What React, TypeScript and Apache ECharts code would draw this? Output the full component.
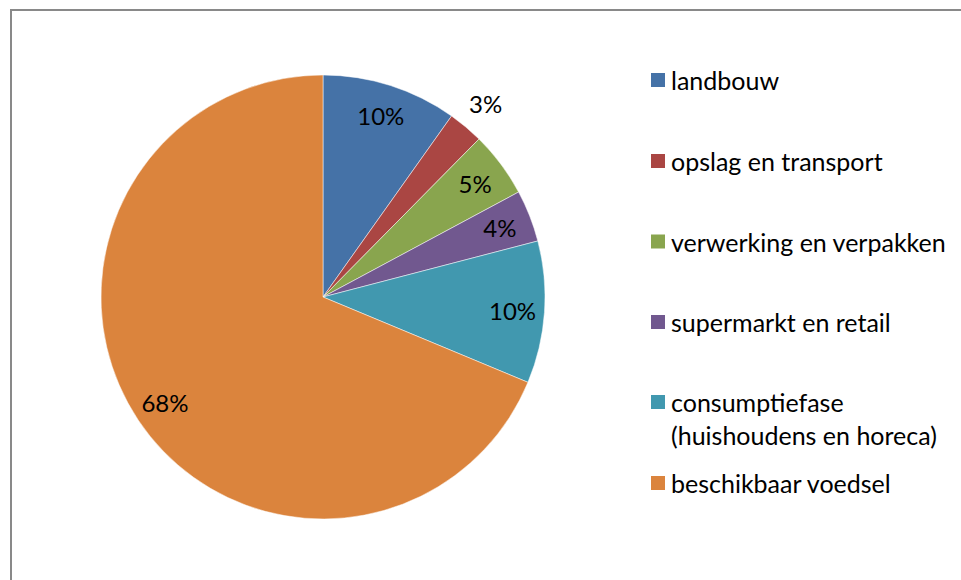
import React, { useEffect, useRef } from "react";
import * as echarts from "echarts";

const categories = [
  "landbouw",
  "opslag en transport",
  "verwerking en verpakken",
  "supermarkt en retail",
  "consumptiefase (huishoudens en horeca)",
  "beschikbaar voedsel",
];
const shares = [9.83, 2.57, 4.76, 3.78, 10.34, 68.72];
const percentLabels = ["10%", "3%", "5%", "4%", "10%", "68%"];
const colors = ["#4572A7", "#AA4643", "#89A54E", "#71588F", "#4198AF", "#DB843D"];

const legendCenters = [80, 161, 241.5, 322, 402, 483];
const FONT = "Lato, 'Noto Sans', sans-serif";
const FS = 24;
const LFS = 25;

export default function App() {
  const ref = useRef<HTMLDivElement>(null);
  useEffect(() => {
    if (!ref.current) return;
    const chart = echarts.init(ref.current, undefined, { renderer: "svg" });
    const center = [323, 297];
    const R = 222;
    const labelStyle = { color: "#000", fontSize: FS, fontFamily: FONT };
    const legends = categories.map((name, i) => {
      const twoLine = name.includes("(");
      return {
        data: [{ name }],
        orient: "vertical",
        left: 649,
        top: twoLine ? legendCenters[i] - 49.5 : legendCenters[i] - 16.5,
        padding: 0,
        itemGap: 0,
        itemWidth: 16,
        itemHeight: 16,
        icon: "rect",
        selectedMode: false,
        formatter: (n: string) =>
          n.includes(" (")
            ? "{s| }\n{a|" + n.replace(" (", "}\n{a|(") + "}"
            : n,
        textStyle: {
          color: "#000",
          fontSize: LFS,
          fontFamily: FONT,
          lineHeight: 33,
          rich: {
            s: { lineHeight: 33, fontSize: LFS, fontFamily: FONT },
            a: { lineHeight: 33, fontSize: LFS, fontFamily: FONT, color: "#000" },
          },
        },
      };
    });
    chart.setOption({
      animation: false,
      backgroundColor: "#fff",
      legend: legends,
      graphic: [
        {
          type: "rect",
          shape: { x: 11, y: 10, width: 1200, height: 1000 },
          style: { fill: "none", stroke: "#898989", lineWidth: 2 },
          silent: true,
        },
      ],
      series: [
        {
          type: "pie",
          center,
          radius: [0, R],
          startAngle: 90,
          clockwise: true,
          silent: true,
          label: { show: false },
          labelLine: { show: false },
          itemStyle: { borderColor: "#fff", borderWidth: 0.5 },
          emphasis: { disabled: true },
          data: categories.map((name, i) => ({
            name,
            value: shares[i],
            itemStyle: { color: colors[i] },
          })),
        },
        {
          type: "pie",
          center,
          radius: [150, 224],
          startAngle: 90,
          clockwise: true,
          silent: true,
          itemStyle: { color: "transparent" },
          labelLine: { show: false },
          emphasis: { disabled: true },
          label: {
            show: true,
            position: "inside",
            ...labelStyle,
            formatter: (p: any) => percentLabels[p.dataIndex],
          },
          data: shares.map((v, i) => ({
            value: v,
            label: { show: i !== 1 },
          })),
        },
        {
          type: "pie",
          center,
          radius: [230, 270],
          startAngle: 90,
          clockwise: true,
          silent: true,
          itemStyle: { color: "transparent" },
          labelLine: { show: false },
          emphasis: { disabled: true },
          label: {
            show: true,
            position: "inside",
            ...labelStyle,
            formatter: (p: any) => percentLabels[p.dataIndex],
          },
          data: shares.map((v, i) => ({
            value: v,
            label: { show: i === 1 },
          })),
        },
      ],
    });
    return () => chart.dispose();
  }, []);
  return (
    <div
      ref={ref}
      style={{ position: "fixed", left: 0, top: 0, width: 961, height: 580 }}
    />
  );
}
